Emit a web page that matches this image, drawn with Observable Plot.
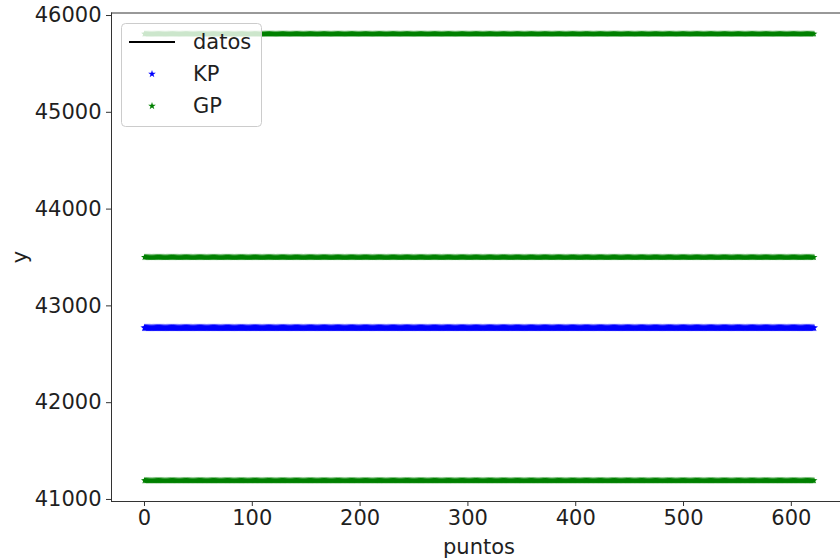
<!DOCTYPE html>
<html>
<head>
<meta charset="utf-8">
<script src="https://cdn.jsdelivr.net/npm/d3@7"></script>
<script src="https://cdn.jsdelivr.net/npm/@observablehq/plot@0.6"></script>
<style>
  html, body { margin: 0; padding: 0; background: #fff; }
  #chart { width: 840px; height: 558px; }
</style>
</head>
<body>
<div id="chart"></div>
<script>
// Number of sampled points along the x axis
const nPuntos = 622;
// KP prediction level (constant across points)
const kpNivel = 42774;
// GP levels: upper band, mean, lower band
const gpNiveles = [45811, 43503, 41196];
// Tick values
const xTicks = [0, 100, 200, 300, 400, 500, 600];
const yTicks = [41000, 42000, 43000, 44000, 45000, 46000];
// Legend entries
const leyenda = ["datos", "KP", "GP"];

const colores = { KP: "#0000ff", GP: "#008000", datos: "#000000" };

const puntos = d3.range(nPuntos);
const kpData = puntos.map(i => ({ x: i, y: kpNivel }));
const gpData = gpNiveles.flatMap(nivel => puntos.map(i => ({ x: i, y: nivel })));

const font = "'DejaVu Sans', sans-serif";
const ink = "#1f1f1f";

const chart = Plot.plot({
  width: 840,
  height: 558,
  marginTop: 12.5,
  marginBottom: 57,
  marginLeft: 111,
  marginRight: 0,
  style: { fontFamily: font, fontSize: "21px", color: ink, background: "#fff" },
  x: { domain: [-30.6, 645.6] },
  y: { domain: [40979, 46026] },
  marks: [
    Plot.dot(kpData, { x: "x", y: "y", symbol: "star", r: 2.6, fill: colores.KP, stroke: "none" }),
    Plot.dot(gpData, { x: "x", y: "y", symbol: "star", r: 2.2, fill: colores.GP, stroke: "none" }),
    Plot.frame({ anchor: "top", stroke: "#333", strokeWidth: 1 }),
    Plot.frame({ anchor: "left", stroke: "#333", strokeWidth: 1 }),
    Plot.frame({ anchor: "bottom", stroke: "#333", strokeWidth: 1 }),
    Plot.axisX({ ticks: xTicks, tickFormat: d => String(d), tickSize: 5, tickPadding: 4, label: null, fontSize: 21, stroke: "#333" }),
    Plot.axisY({ ticks: yTicks, tickFormat: d => String(d), tickSize: 5, tickPadding: 5, label: null, fontSize: 21, stroke: "#333" })
  ]
});

document.getElementById("chart").appendChild(chart);

const svg = d3.select(chart);

// Axis titles
svg.append("text")
  .attr("x", 479).attr("y", 547)
  .attr("text-anchor", "middle").attr("dominant-baseline", "central")
  .attr("font-family", font).attr("font-size", 21).attr("fill", ink)
  .text("puntos");

svg.append("text")
  .attr("transform", "translate(20,257) rotate(-90)")
  .attr("text-anchor", "middle").attr("dominant-baseline", "central")
  .attr("font-family", font).attr("font-size", 21).attr("fill", ink)
  .text("y");

// Legend box
const lg = svg.append("g");
lg.append("rect")
  .attr("x", 121.5).attr("y", 23.5).attr("width", 140).attr("height", 103)
  .attr("rx", 4).attr("fill", "#fff").attr("fill-opacity", 0.8)
  .attr("stroke", "#cccccc").attr("stroke-width", 1);

const filas = [42, 74, 106];
leyenda.forEach((nombre, i) => {
  const cy = filas[i];
  if (nombre === "datos") {
    lg.append("line")
      .attr("x1", 129).attr("x2", 175).attr("y1", cy).attr("y2", cy)
      .attr("stroke", colores.datos).attr("stroke-width", 1.8);
  } else {
    lg.append("path")
      .attr("transform", `translate(152,${cy})`)
      .attr("d", d3.symbol(d3.symbolStar, Math.PI * 2.4 * 2.4)())
      .attr("fill", colores[nombre]);
  }
  lg.append("text")
    .attr("x", 193).attr("y", cy)
    .attr("text-anchor", "start")
    .attr("dominant-baseline", "central")
    .attr("font-family", font).attr("font-size", 21).attr("fill", ink)
    .text(nombre);
});
</script>
</body>
</html>
